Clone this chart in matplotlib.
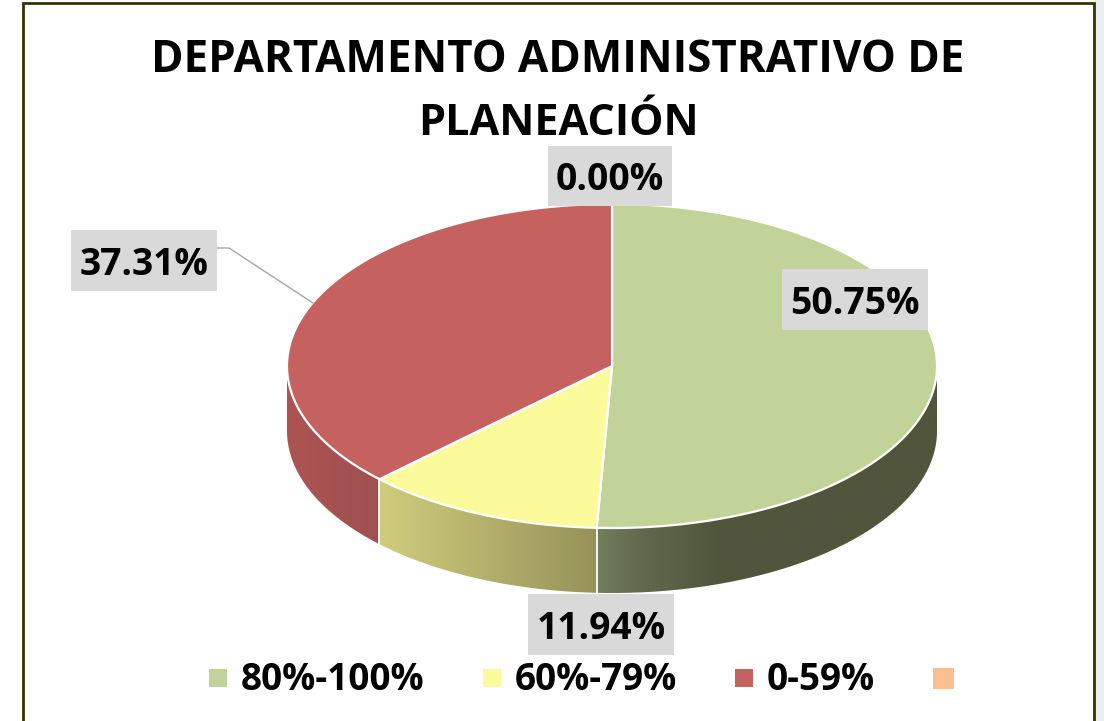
"""
Pie 3D de cumplimiento, Departamento Administrativo de Planeacion.
"""

import numpy as np
import matplotlib
matplotlib.use("Agg")
import matplotlib.pyplot as plt
from matplotlib.patches import Polygon, Rectangle

CATEGORIES = ["80%-100%", "60%-79%", "0-59%", ""]
VALUES     = [50.75, 11.94, 37.31, 0.00]
TITLE      = "DEPARTAMENTO ADMINISTRATIVO DE\nPLANEACIÓN"

TOP_COLORS = ["#C2D39A", "#FBFB9B", "#C5615F", "#FBBF8F"]
# side shading: (x pixel, colour) stops per slice
SIDE_STOPS = [
    ([597, 640, 720, 937], ["#727E5C", "#616A4C", "#50553C", "#50553C"]),
    ([379, 597],           ["#CFCE7C", "#96925A"]),
    ([287, 379],           ["#AC5453", "#A05050"]),
    None,
]

CX, CY = 612, 366
RX, RY = 325, 162
DEPTH  = 65
FONT   = "Open Sans"
GREY   = "#D9D9D9"

# label boxes: x0, y0, x1, y1
LABEL_BOXES = [(782, 269, 928, 330), (528, 594, 674, 655),
               (71, 230, 217, 291), (548, 146, 672, 206)]
LEGEND_SWATCH = [(209, 669, 18), (483, 669, 18), (735, 669, 18), (933, 668, 21)]
LEGEND_TEXT_X = [241, 515, 767, 0]


def ellipse_pts(start, end, n=200):
    """Points on the top rim, angles clockwise from 12 o'clock, in degrees."""
    t = np.radians(np.linspace(start, end, n))
    return CX + RX * np.sin(t), CY - RY * np.cos(t)


def draw_side(ax, start, end, stops):
    xs, ys = ellipse_pts(start, end, 240)
    outline = np.column_stack([np.r_[xs, xs[::-1]], np.r_[ys, ys[::-1] + DEPTH]])
    clip = Polygon(outline, closed=True, transform=ax.transData)

    # horizontal gradient, clipped to the wall shape
    stop_x, stop_c = stops
    rgb = np.array([matplotlib.colors.to_rgb(c) for c in stop_c])
    x0, x1 = xs.min() - 1, xs.max() + 1
    grid = np.linspace(x0, x1, 400)
    img = np.stack([np.interp(grid, stop_x, rgb[:, k]) for k in range(3)], axis=-1)
    im = ax.imshow(img[np.newaxis, :, :], extent=(x0, x1, ys.max() + DEPTH + 2, ys.min() - 2),
                   aspect="auto", interpolation="bilinear", zorder=2)
    im.set_clip_path(clip)


def main():
    fig = plt.figure(figsize=(11.04, 7.21), dpi=100)
    ax = fig.add_axes([0, 0, 1, 1])
    ax.axis("off")

    # frame
    ax.add_patch(Rectangle((1095, 0), 9, 721, facecolor="#ECEFF2",
                           edgecolor="none", zorder=0))
    ax.plot([22.5, 22.5, 1094, 1094], [725, 3, 3, 725], color="#333300",
            linewidth=2, solid_joinstyle="miter", zorder=1)

    # slice boundaries from the values
    total = sum(VALUES)
    bounds = np.concatenate([[0], np.cumsum(VALUES) / total * 360])

    # walls: only the front half (90..270 deg) is visible
    for i, stops in enumerate(SIDE_STOPS):
        if stops is None:
            continue
        start, end = max(bounds[i], 90), min(bounds[i + 1], 270)
        if end > start:
            draw_side(ax, start, end, stops)

    # white seams on the walls
    for b in bounds[1:3]:
        x, y = ellipse_pts(b, b, 1)
        ax.plot([x[0], x[0]], [y[0], y[0] + DEPTH], color="white",
                linewidth=1.3, zorder=3)

    # top face
    for i, val in enumerate(VALUES):
        if val <= 0:
            continue
        xs, ys = ellipse_pts(bounds[i], bounds[i + 1])
        pts = np.column_stack([np.r_[CX, xs], np.r_[CY, ys]])
        ax.add_patch(Polygon(pts, closed=True, facecolor=TOP_COLORS[i],
                             edgecolor="white", linewidth=1.6,
                             joinstyle="round", zorder=4))

    # leader line for the 37.31% label
    ax.plot([217, 229, 313], [248, 248, 303], color="#A6A6A6", linewidth=1, zorder=5)

    # data labels
    for val, (x0, y0, x1, y1) in zip(VALUES, LABEL_BOXES):
        ax.add_patch(Rectangle((x0, y0), x1 - x0, y1 - y0, facecolor=GREY,
                               edgecolor="none", zorder=6))
        ax.text((x0 + x1) / 2, (y0 + y1) / 2 + 14.5, f"{val:.2f}%", family=FONT,
                fontsize=26.8, fontweight="bold", color="black",
                ha="center", va="baseline", zorder=7)

    # title
    line1, line2 = TITLE.split("\n")
    ax.text(558, 72, line1, family=FONT, fontsize=31.6, fontweight="bold",
            ha="center", va="baseline", zorder=7)
    ax.text(558, 135, line2, family=FONT, fontsize=31.1, fontweight="bold",
            ha="center", va="baseline", zorder=7)

    # legend
    for i, cat in enumerate(CATEGORIES):
        x, y, s = LEGEND_SWATCH[i]
        ax.add_patch(Rectangle((x, y), s, s, facecolor=TOP_COLORS[i],
                               edgecolor="none", zorder=6))
        if cat:
            ax.text(LEGEND_TEXT_X[i], 690, cat, family=FONT, fontsize=26.6,
                    fontweight="bold", ha="left", va="baseline", zorder=7)

    # imshow resets the limits, so fix the pixel frame last
    ax.set_xlim(0, 1104)
    ax.set_ylim(721, 0)

    fig.savefig("out.png", dpi=100, facecolor="white")
    plt.close(fig)


if __name__ == "__main__":
    main()
